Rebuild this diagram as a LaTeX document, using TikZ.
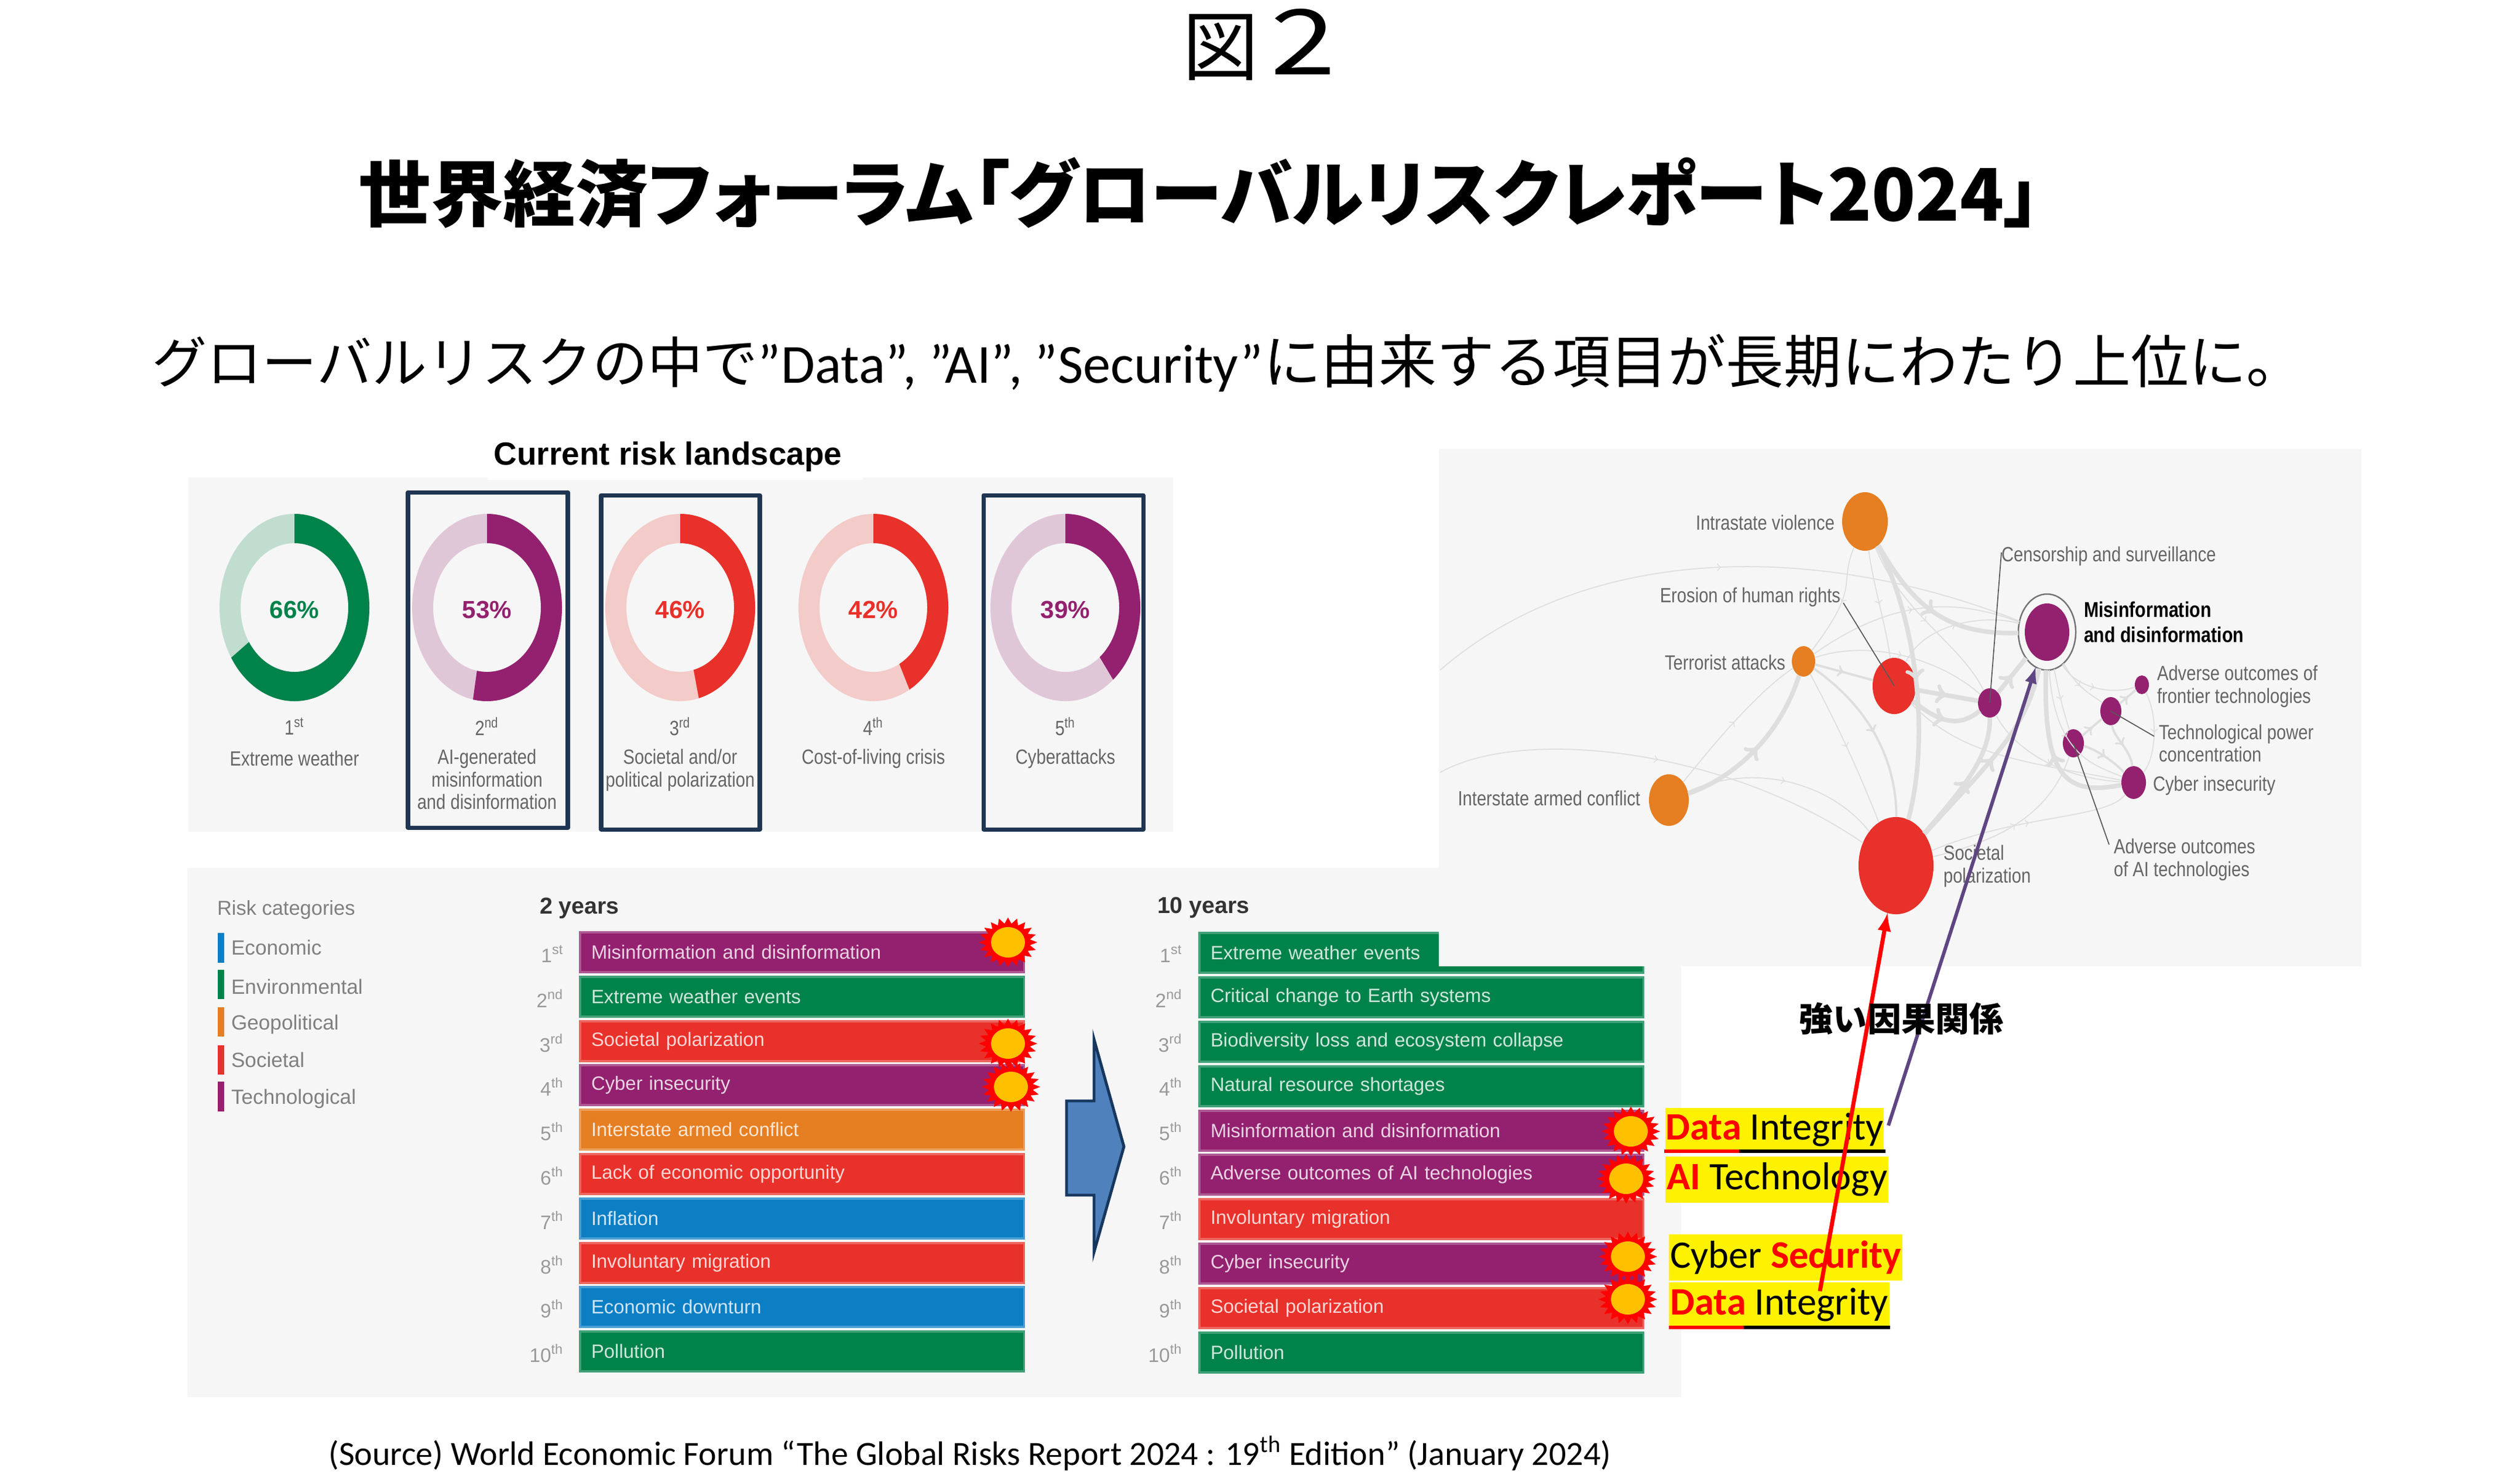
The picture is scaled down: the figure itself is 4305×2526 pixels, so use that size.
\documentclass[tikz,border=0pt]{standalone}
\usepackage{fontspec}
\setmainfont{Liberation Sans}
\newfontfamily\cjkfont{Noto Sans CJK JP}
\newfontfamily\cjkpalt[RawFeature=+palt]{Noto Sans CJK JP}
\newfontfamily\calfont{Carlito}
\newfontfamily\slimfont[FakeStretch=0.83]{Liberation Sans}
\usetikzlibrary{shapes.geometric,decorations.markings}
\definecolor{riskgreen}{HTML}{00824B}
\definecolor{riskpurple}{HTML}{93216F}
\definecolor{riskred}{HTML}{E8312A}
\definecolor{riskorange}{HTML}{E67E22}
\definecolor{riskblue}{HTML}{0B7EC4}
\definecolor{paneltint}{HTML}{F6F6F6}
\definecolor{boxnavy}{HTML}{1F3552}
\definecolor{netgray}{HTML}{DEDEDE}
\definecolor{labelgray}{HTML}{666666}
\definecolor{arrowblue}{HTML}{4F81BD}
\definecolor{arrownavy}{HTML}{17375E}
\definecolor{causepurple}{HTML}{5F4682}
\definecolor{coreyellow}{HTML}{FFC000}
\begin{document}
\begin{tikzpicture}[x=0.01cm,y=0.01cm,yscale=-1]
\tikzstyle{every node}+=[inner sep=0pt,outer sep=0pt]
\tikzstyle{picklabel}=[font=\fontsize{10}{11}\selectfont\slimfont,text=labelgray,align=center]
\tikzstyle{netlabel}=[font=\fontsize{10}{11}\selectfont\slimfont,text=labelgray,align=left]
\tikzstyle{legendlabel}=[font=\fontsize{10}{12}\selectfont,text=gray,anchor=west]
\tikzstyle{ranklabel}=[font=\fontsize{9.5}{11}\selectfont,text=gray!80,anchor=east]
\tikzstyle{heading}=[font=\fontsize{11.2}{13}\selectfont\bfseries,text=black!80,anchor=west]
\tikzstyle{percent}=[font=\fontsize{12}{14}\selectfont\bfseries]
\tikzstyle{pickbox}=[draw=boxnavy,line width=2pt,line join=round]
\tikzstyle{riskbar}=[font=\fontsize{9.35}{11}\selectfont,text=white,text opacity=0.8,anchor=west,minimum height=0.68cm,text width=7.2cm,inner xsep=0.19cm,line width=1pt]
\tikzstyle{purplebar}=[riskbar,fill=riskpurple,draw=riskpurple!75!white]
\tikzstyle{greenbar}=[riskbar,fill=riskgreen,draw=riskgreen!75!white]
\tikzstyle{redbar}=[riskbar,fill=riskred,draw=riskred!75!white]
\tikzstyle{orangebar}=[riskbar,fill=riskorange,draw=riskorange!75!white]
\tikzstyle{bluebar}=[riskbar,fill=riskblue,draw=riskblue!75!white]
\tikzstyle{firestar}=[star,star points=20,star point ratio=1.32,minimum size=1cm,fill=red,transform shape,yscale=0.85]
\tikzstyle{firecore}=[ellipse,minimum width=0.58cm,minimum height=0.52cm,fill=coreyellow]
\tikzstyle{riskdot}=[ellipse]
\tikzstyle{netthin}=[netgray,line width=0.5pt,postaction={decorate},decoration={markings,mark=at position 0.5 with {\arrow{>}}}]
\tikzstyle{netmid}=[netthin,line width=1.1pt]
\tikzstyle{netheavy}=[netthin,line width=2.2pt]
\tikzstyle{leader}=[draw=black!65,line width=0.5pt]
\tikzstyle{hilite}=[fill=yellow,font=\fontsize{18.9}{20}\selectfont\calfont,anchor=west,text=black]
\useasboundingbox (0,0) rectangle (4305,2526);
\fill [white] (0,0) rectangle (4305,2526);
\node (figtitle) at (2151,76) {\cjkfont\fontsize{37}{40}\selectfont 図\hspace{5.7pt}\fontsize{44}{44}\selectfont\scalebox{1.3}[1]{2}};
\node (mainhead) at (2049,330) {\fontsize{35.2}{38}\selectfont\cjkpalt\bfseries 世界経済フォーラム「グローバルリスクレポート2024」};
\node (subhead) at (2098,620) {\fontsize{26.8}{30}\selectfont\cjkfont グローバルリスクの中で{\calfont ”Data”, ”AI”, ”Security”}\fontsize{28.1}{30}\selectfont に由来する項目が長期にわたり上位に。};
\fill [paneltint] (322,816) rectangle (2004,1421);
\fill [white] (833,800) rectangle (1474,820);
\node (landscape) at (1141,780) {\fontsize{15.6}{18}\selectfont\bfseries Current risk landscape};
\fill [riskgreen!22!paneltint,even odd rule] (503,1038) ellipse [x radius=128,y radius=160] (503,1038) ellipse [x radius=92,y radius=110];
\fill [riskgreen] (503,878) arc [start angle=-90,end angle=147.6,x radius=128,y radius=160] -- ({503+92*cos(147.6)},{1038+110*sin(147.6)}) arc [start angle=147.6,end angle=-90,x radius=92,y radius=110] -- cycle;
\fill [riskpurple!22!paneltint,even odd rule] (832,1038) ellipse [x radius=128,y radius=160] (832,1038) ellipse [x radius=92,y radius=110];
\fill [riskpurple] (832,878) arc [start angle=-90,end angle=100.8,x radius=128,y radius=160] -- ({832+92*cos(100.8)},{1038+110*sin(100.8)}) arc [start angle=100.8,end angle=-90,x radius=92,y radius=110] -- cycle;
\fill [riskred!22!paneltint,even odd rule] (1162,1038) ellipse [x radius=128,y radius=160] (1162,1038) ellipse [x radius=92,y radius=110];
\fill [riskred] (1162,878) arc [start angle=-90,end angle=75.6,x radius=128,y radius=160] -- ({1162+92*cos(75.6)},{1038+110*sin(75.6)}) arc [start angle=75.6,end angle=-90,x radius=92,y radius=110] -- cycle;
\fill [riskred!22!paneltint,even odd rule] (1492,1038) ellipse [x radius=128,y radius=160] (1492,1038) ellipse [x radius=92,y radius=110];
\fill [riskred] (1492,878) arc [start angle=-90,end angle=61.2,x radius=128,y radius=160] -- ({1492+92*cos(61.2)},{1038+110*sin(61.2)}) arc [start angle=61.2,end angle=-90,x radius=92,y radius=110] -- cycle;
\fill [riskpurple!22!paneltint,even odd rule] (1820,1038) ellipse [x radius=128,y radius=160] (1820,1038) ellipse [x radius=92,y radius=110];
\fill [riskpurple] (1820,878) arc [start angle=-90,end angle=50.4,x radius=128,y radius=160] -- ({1820+92*cos(50.4)},{1038+110*sin(50.4)}) arc [start angle=50.4,end angle=-90,x radius=92,y radius=110] -- cycle;
\node [percent,text=riskgreen] (pcta) at (503,1042) {66\%};
\node [percent,text=riskpurple] (pctb) at (832,1042) {53\%};
\node [percent,text=riskred] (pctc) at (1162,1042) {46\%};
\node [percent,text=riskred] (pctd) at (1492,1042) {42\%};
\node [percent,text=riskpurple] (pcte) at (1820,1042) {39\%};
\node [picklabel] (ranka) at (503,1241) {1\textsuperscript{st}};
\node [picklabel] (rankb) at (832,1241) {2\textsuperscript{nd}};
\node [picklabel] (rankc) at (1162,1241) {3\textsuperscript{rd}};
\node [picklabel] (rankd) at (1492,1241) {4\textsuperscript{th}};
\node [picklabel] (ranke) at (1820,1241) {5\textsuperscript{th}};
\node [picklabel] (picka) at (503,1296) {Extreme weather};
\node [picklabel,anchor=north] (pickb) at (832,1280) {AI-generated\\misinformation\\and disinformation};
\node [picklabel,anchor=north] (pickc) at (1162,1280) {Societal and/or\\political polarization};
\node [picklabel] (pickd) at (1492,1296) {Cost-of-living crisis};
\node [picklabel] (picke) at (1820,1296) {Cyberattacks};
\draw [pickbox] (697,841) rectangle (970,1414);
\draw [pickbox] (1027,846) rectangle (1298,1417);
\draw [pickbox] (1680,846) rectangle (1953,1417);
\fill [paneltint] (320,1483) rectangle (2872,2387);
\node [legendlabel,font=\fontsize{9.8}{12}\selectfont] (riskcats) at (371,1555) {Risk categories};
\fill [riskblue] (372,1594) rectangle (383,1645);
\fill [riskgreen] (372,1657) rectangle (383,1707);
\fill [riskorange] (372,1721) rectangle (383,1771);
\fill [riskred] (372,1786) rectangle (383,1836);
\fill [riskpurple] (372,1848) rectangle (383,1899);
\node [legendlabel] (catecon) at (395,1619) {Economic};
\node [legendlabel] (catenv) at (395,1686) {Environmental};
\node [legendlabel] (catgeo) at (395,1750) {Geopolitical};
\node [legendlabel] (catsoc) at (395,1811) {Societal};
\node [legendlabel] (cattech) at (395,1877) {Technological};
\node [heading] (twoyears) at (922,1552) {2 years};
\node [heading] (tenyears) at (1977,1551) {10 years};
\node [ranklabel] (twoa) at (963,1630) {1\textsuperscript{st}};
\node [ranklabel] (twob) at (963,1706) {2\textsuperscript{nd}};
\node [ranklabel] (twoc) at (963,1782) {3\textsuperscript{rd}};
\node [ranklabel] (twod) at (963,1857) {4\textsuperscript{th}};
\node [ranklabel] (twoe) at (963,1933) {5\textsuperscript{th}};
\node [ranklabel] (twof) at (963,2009) {6\textsuperscript{th}};
\node [ranklabel] (twog) at (963,2085) {7\textsuperscript{th}};
\node [ranklabel] (twoh) at (963,2161) {8\textsuperscript{th}};
\node [ranklabel] (twoi) at (963,2236) {9\textsuperscript{th}};
\node [ranklabel] (twoj) at (963,2312) {10\textsuperscript{th}};
\node [purplebar] (bartwoa) at (991,1627) {Misinformation and disinformation};
\node [greenbar] (bartwob) at (991,1703) {Extreme weather events};
\node [redbar] (bartwoc) at (991,1779) {Societal polarization};
\node [purplebar] (bartwod) at (991,1854) {Cyber insecurity};
\node [orangebar] (bartwoe) at (991,1930) {Interstate armed conflict};
\node [redbar] (bartwof) at (991,2006) {Lack of economic opportunity};
\node [bluebar] (bartwog) at (991,2082) {Inflation};
\node [redbar] (bartwoh) at (991,2158) {Involuntary migration};
\node [bluebar] (bartwoi) at (991,2233) {Economic downturn};
\node [greenbar] (bartwoj) at (991,2309) {Pollution};
\node [ranklabel] (tena) at (2020,1630) {1\textsuperscript{st}};
\node [ranklabel] (tenb) at (2020,1706) {2\textsuperscript{nd}};
\node [ranklabel] (tenc) at (2020,1782) {3\textsuperscript{rd}};
\node [ranklabel] (tend) at (2020,1857) {4\textsuperscript{th}};
\node [ranklabel] (tene) at (2020,1933) {5\textsuperscript{th}};
\node [ranklabel] (tenf) at (2020,2009) {6\textsuperscript{th}};
\node [ranklabel] (teng) at (2020,2085) {7\textsuperscript{th}};
\node [ranklabel] (tenh) at (2020,2161) {8\textsuperscript{th}};
\node [ranklabel] (teni) at (2020,2236) {9\textsuperscript{th}};
\node [ranklabel] (tenj) at (2020,2312) {10\textsuperscript{th}};
\node [greenbar] (bartena) at (2049,1628) {Extreme weather events};
\node [greenbar] (bartenb) at (2049,1704) {Critical change to Earth systems};
\node [greenbar] (bartenc) at (2049,1780) {Biodiversity loss and ecosystem collapse};
\node [greenbar] (bartend) at (2049,1856) {Natural resource shortages};
\node [purplebar] (bartene) at (2049,1932) {Misinformation and disinformation};
\node [purplebar] (bartenf) at (2049,2007) {Adverse outcomes of AI technologies};
\node [redbar] (barteng) at (2049,2083) {Involuntary migration};
\node [purplebar] (bartenh) at (2049,2159) {Cyber insecurity};
\node [redbar] (barteni) at (2049,2235) {Societal polarization};
\node [greenbar] (bartenj) at (2049,2311) {Pollution};
\node [firestar] (firea) at (1722,1610) {};
\node [firecore] (corea) at (1722,1610) {};
\node [firestar] (fireb) at (1722,1783) {};
\node [firecore] (coreb) at (1722,1783) {};
\node [firestar] (firec) at (1727,1857) {};
\node [firecore] (corec) at (1727,1857) {};
\node [firestar] (fired) at (2786,1933) {};
\node [firecore] (cored) at (2786,1933) {};
\node [firestar] (firee) at (2778,2014) {};
\node [firecore] (coree) at (2778,2014) {};
\node [firestar] (firef) at (2781,2147) {};
\node [firecore] (coref) at (2781,2147) {};
\node [firestar] (fireg) at (2781,2220) {};
\node [firecore] (coreg) at (2781,2220) {};
\draw [draw=arrownavy,fill=arrowblue,line width=1.4pt,line join=miter] (1822,1881) -- (1869,1881) -- (1869,1776) -- (1920,1959) -- (1869,2139) -- (1869,2042) -- (1822,2042) -- cycle;
\fill [paneltint] (2458,767) rectangle (4034,1651);
\node [riskdot,fill=riskorange,minimum width=0.78cm,minimum height=1.0cm] (intra) at (3186,891) {};
\node [riskdot,fill=riskred,minimum width=1.28cm,minimum height=1.66cm] (societal) at (3239,1479) {};
\node [riskdot,fill=riskred,minimum width=0.74cm,minimum height=0.96cm] (erosion) at (3236,1172) {};
\node [riskdot,fill=riskorange,minimum width=0.4cm,minimum height=0.52cm] (terror) at (3081,1130) {};
\node [riskdot,fill=riskorange,minimum width=0.68cm,minimum height=0.88cm] (interstate) at (2851,1367) {};
\node [riskdot,fill=riskpurple,minimum width=0.4cm,minimum height=0.5cm] (censor) at (3399,1201) {};
\node [riskdot,draw=black!55,line width=0.7pt,minimum width=0.98cm,minimum height=1.3cm] (misring) at (3497,1080) {};
\node [riskdot,fill=riskpurple,minimum width=0.76cm,minimum height=0.98cm] (misinfo) at (3497,1080) {};
\node [riskdot,fill=riskpurple,minimum width=0.24cm,minimum height=0.32cm] (frontier) at (3659,1170) {};
\node [riskdot,fill=riskpurple,minimum width=0.36cm,minimum height=0.48cm] (techpower) at (3606,1215) {};
\node [riskdot,fill=riskpurple,minimum width=0.36cm,minimum height=0.48cm] (aitech) at (3542,1270) {};
\node [riskdot,fill=riskpurple,minimum width=0.42cm,minimum height=0.56cm] (cyber) at (3645,1337) {};
\coordinate (westa) at (2460,1145);
\coordinate (westb) at (2460,1320);
\draw [netthin] (westa) .. controls (2720,920) and (3120,930) .. (misring);
\draw [netthin] (westb) .. controls (2600,1240) and (2950,1280) .. (societal);
\draw [netthin] (interstate) .. controls (3000,1300) and (3130,1340) .. (societal);
\draw [netthin] (interstate) .. controls (2960,1230) and (3020,1170) .. (terror);
\draw [netheavy] (interstate) .. controls (2960,1330) and (3040,1260) .. (terror);
\draw [netthin] (terror) .. controls (3250,1010) and (3360,1030) .. (misring);
\draw [netthin] (terror) .. controls (3200,1090) and (3320,1130) .. (censor);
\draw [netmid] (terror) .. controls (3210,1220) and (3240,1320) .. (societal);
\draw [netmid] (terror) -- (erosion);
\draw [netthin] (terror) .. controls (3150,1260) and (3180,1330) .. (societal);
\draw [netheavy] (intra) .. controls (3270,1050) and (3300,1250) .. (societal);
\draw [netheavy] (intra) .. controls (3270,1040) and (3330,1085) .. (misring);
\draw [netthin] (intra) .. controls (3200,1000) and (3220,1060) .. (erosion);
\draw [netthin] (intra) .. controls (3250,1050) and (3350,1100) .. (censor);
\draw [netthin] (intra) .. controls (3140,1000) and (3180,1000) .. (terror);
\draw [netheavy] (erosion) -- (censor);
\draw [netheavy] (erosion) .. controls (3320,1240) and (3350,1240) .. (censor);
\draw [netthin] (erosion) .. controls (3290,1060) and (3400,1050) .. (misring);
\draw [netthin] (erosion) .. controls (3350,1290) and (3450,1300) .. (cyber);
\draw [netheavy] (censor) -- (misring);
\draw [netheavy] (societal) .. controls (3400,1300) and (3460,1250) .. (misring);
\draw [netheavy] (societal) .. controls (3360,1340) and (3400,1290) .. (censor);
\draw [netthin] (societal) .. controls (3450,1390) and (3600,1400) .. (cyber);
\draw [netthin] (societal) .. controls (3400,1440) and (3500,1400) .. (aitech);
\draw [netheavy] (cyber) .. controls (3530,1360) and (3490,1330) .. (misring);
\draw [netthin] (misring) .. controls (3540,1170) and (3600,1190) .. (frontier);
\draw [netthin] (misring) .. controls (3520,1200) and (3530,1230) .. (aitech);
\draw [netthin] (misring) .. controls (3510,1300) and (3590,1310) .. (cyber);
\draw [netthin] (misring) .. controls (3550,1180) and (3580,1190) .. (techpower);
\draw [netmid] (aitech) -- (techpower);
\draw [netmid] (aitech) .. controls (3580,1280) and (3610,1300) .. (cyber);
\draw [netmid] (techpower) -- (frontier);
\draw [netmid] (techpower) .. controls (3610,1260) and (3640,1280) .. (cyber);
\draw [netthin] (frontier) .. controls (3690,1230) and (3680,1300) .. (cyber);
\draw [netthin] (censor) .. controls (3440,1280) and (3520,1330) .. (cyber);
\node [netlabel,anchor=east] (lbintra) at (3134,893) {Intrastate violence};
\node [netlabel,anchor=west] (lbcensor) at (3419,950) {Censorship and surveillance};
\node [netlabel,anchor=east] (lberosion) at (3144,1020) {Erosion of human rights};
\node [netlabel,anchor=west,text=black,font=\fontsize{10.4}{12.4}\selectfont\slimfont\bfseries] (lbmisinfo) at (3560,1063) {Misinformation\\and disinformation};
\node [netlabel,anchor=east] (lbterror) at (3050,1132) {Terrorist attacks};
\node [netlabel,anchor=west] (lbfrontier) at (3685,1173) {Adverse outcomes of\\frontier technologies};
\node [netlabel,anchor=west] (lbpower) at (3688,1270) {Technological power\\concentration};
\node [netlabel,anchor=west] (lbcyber) at (3678,1342) {Cyber insecurity};
\node [netlabel,anchor=east] (lbinterstate) at (2802,1364) {Interstate armed conflict};
\node [netlabel,anchor=west] (lbsocietal) at (3320,1480) {Societal\\polarization};
\node [netlabel,anchor=west] (lbadverse) at (3611,1469) {Adverse outcomes\\of AI technologies};
\coordinate (legerosion) at (3149,1030);
\coordinate (legcensor) at (3419,944);
\coordinate (legpower) at (3680,1258);
\coordinate (legai) at (3603,1443);
\draw [leader] (legerosion) -- (erosion.center);
\draw [leader] (legcensor) -- (censor.center);
\draw [leader] (legpower) -- (techpower.center);
\draw [leader] (legai) -- (aitech.center);
\node [hilite,minimum width=3.73cm,minimum height=0.74cm] (hilitea) at (2845,1930) {\raisebox{-2pt}{\textcolor{red}{\bfseries Data} Integrity}};
\node [hilite,minimum width=3.81cm,minimum height=0.79cm] (hiliteb) at (2845,2015) {\raisebox{-2pt}{\textcolor{red}{\bfseries AI} Technology}};
\node [hilite,minimum width=3.99cm,minimum height=0.79cm] (hilitec) at (2851,2148) {\raisebox{-2pt}{Cyber \textcolor{red}{\bfseries Security}}};
\node [hilite,minimum width=3.77cm,minimum height=0.76cm] (hilited) at (2851,2229) {\raisebox{-2pt}{\textcolor{red}{\bfseries Data} Integrity}};
\fill [red] (2843,1964) rectangle (2971,1970);
\fill [black] (2971,1964) rectangle (3221,1970);
\fill [red] (2851,2265) rectangle (2979,2271);
\fill [black] (2979,2265) rectangle (3229,2271);
\coordinate (redtail) at (3109,2206);
\coordinate (purpletail) at (3226,1923);
\draw [red,line width=2pt,-latex] (redtail) -- (societal);
\draw [causepurple,line width=1.7pt,-latex] (purpletail) -- (misring);
\node [font=\fontsize{16.5}{18}\selectfont\cjkfont\bfseries] (causelabel) at (3248,1741) {強い因果関係};
\node (sourceline) at (1657,2483) {\fontsize{16.5}{20}\selectfont\calfont (Source) World Economic Forum “The Global Risks Report 2024 : 19\textsuperscript{th} Edition” (January 2024)};
\end{tikzpicture}
\end{document}
